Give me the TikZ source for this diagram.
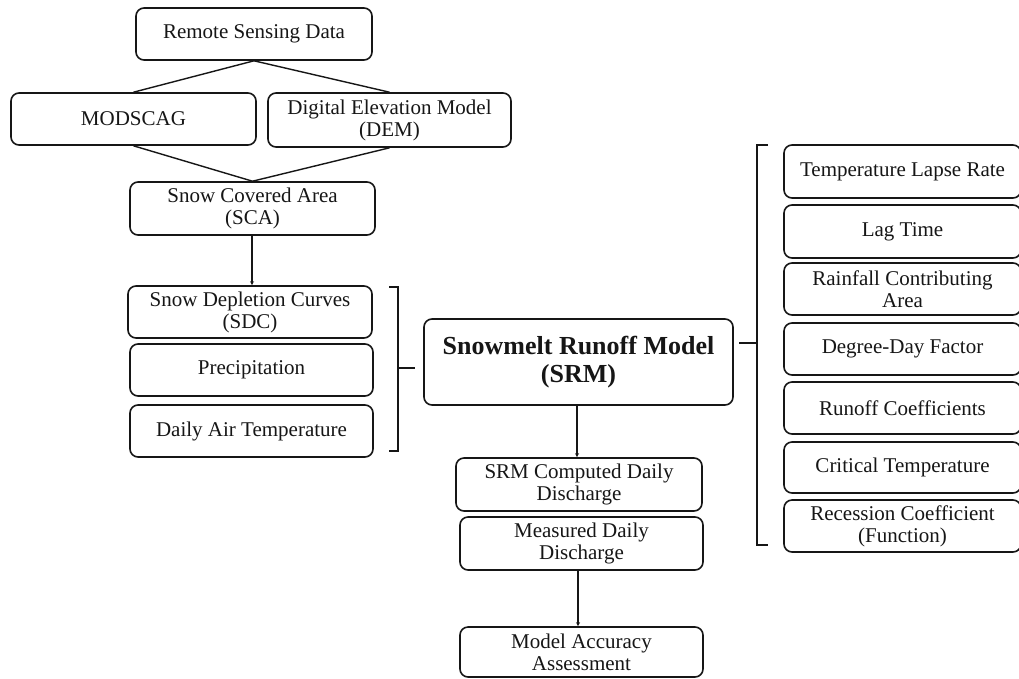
\documentclass[tikz,border=0pt]{standalone}
\usepackage{fontspec}
\setmainfont{Liberation Serif}
\usetikzlibrary{arrows.meta}
\definecolor{ink}{HTML}{161616}
\begin{document}
\begin{tikzpicture}[x=1pt,y=-1pt,
  box/.style={draw=ink, line width=1.6pt, rounded corners=8pt, align=center,
    inner sep=1pt, text=ink, font=\fontsize{21}{22}\selectfont},
  bigbox/.style={box, font=\fontsize{26}{28}\selectfont\bfseries},
  link/.style={draw=ink, line width=1.4pt},
  arr/.style={link, -{Stealth[length=4pt,width=4pt]}}]

\useasboundingbox (0,0) rectangle (1019,678);
\fill[white] (0,0) rectangle (1019,678);

\begin{scope}
\clip (0,0) rectangle (1019,678);

% data preparation column
\node[box, minimum width=236pt, minimum height=52pt] (rsd) at (254,34) {Remote Sensing Data};
\node[box, minimum width=245pt, minimum height=52pt] (mod) at (133.5,119) {MODSCAG};
\node[box, minimum width=243pt, minimum height=54pt] (dem) at (389.5,120) {Digital Elevation Model\\(DEM)};
\node[box, minimum width=245pt, minimum height=53pt] (sca) at (252.5,208.5) {Snow Covered Area\\(SCA)};
\node[box, minimum width=244pt, minimum height=52pt] (sdc) at (250,312) {Snow Depletion Curves\\(SDC)};
\node[box, minimum width=243pt, minimum height=52pt] (pre) at (251.5,370) {Precipitation};
\node[box, minimum width=243pt, minimum height=52pt] (dat) at (251.5,431) {Daily Air Temperature};

% model and outputs
\node[bigbox, minimum width=309pt, minimum height=86pt] (srm) at (578.5,362) {Snowmelt Runoff Model\\(SRM)};
\node[box, minimum width=246pt, minimum height=53pt] (comp) at (579,484.5) {SRM Computed Daily\\Discharge};
\node[box, minimum width=243pt, minimum height=53pt] (meas) at (581.5,543.5) {Measured Daily\\Discharge};
\node[box, minimum width=243pt, minimum height=50pt] (acc) at (581.5,652) {Model Accuracy\\Assessment};

% model parameters
\node[box, minimum width=237pt, minimum height=53pt] (p1) at (902.5,171.5) {Temperature Lapse Rate};
\node[box, minimum width=237pt, minimum height=53pt] (p2) at (902.5,231.5) {Lag Time};
\node[box, minimum width=237pt, minimum height=52pt] (p3) at (902.5,289) {Rainfall Contributing\\Area};
\node[box, minimum width=237pt, minimum height=52pt] (p4) at (902.5,349) {Degree-Day Factor};
\node[box, minimum width=237pt, minimum height=52pt] (p5) at (902.5,408) {Runoff Coefficients};
\node[box, minimum width=237pt, minimum height=51pt] (p6) at (902.5,467.5) {Critical Temperature};
\node[box, minimum width=237pt, minimum height=52pt] (p7) at (902.5,526) {Recession Coefficient\\(Function)};

% links between the input boxes
\draw[link] (rsd.south) -- (mod.north);
\draw[link] (rsd.south) -- (dem.north);
\draw[link] (mod.south) -- (sca.north);
\draw[link] (dem.south) -- (sca.north);

% vertical arrows, each dropped from the bottom of its box
\coordinate (sdrop) at (252,235);
\draw[arr] (sdrop) -- (sdrop |- sdc.north);
\coordinate (rdrop) at (577,405);
\draw[arr] (rdrop) -- (rdrop |- comp.north);
\coordinate (mdrop) at (578,570);
\draw[arr] (mdrop) -- (mdrop |- acc.north);

% bracket grouping the forcing inputs
\coordinate (lbt) at (389,287);
\coordinate (lbb) at (389,451);
\coordinate (lbm) at (398,368);
\coordinate (lbe) at (415,368);
\draw[link] (lbt) -- ++(9,0) |- (lbb);
\draw[link] (lbm) -- (lbe);

% bracket grouping the model parameters
\coordinate (rbt) at (768,145);
\coordinate (rbb) at (768,545);
\coordinate (rbm) at (757,343);
\coordinate (rbs) at (739,343);
\draw[link] (rbt) -- ++(-11,0) |- (rbb);
\draw[link] (rbs) -- (rbm);
\end{scope}
\end{tikzpicture}
\end{document}
